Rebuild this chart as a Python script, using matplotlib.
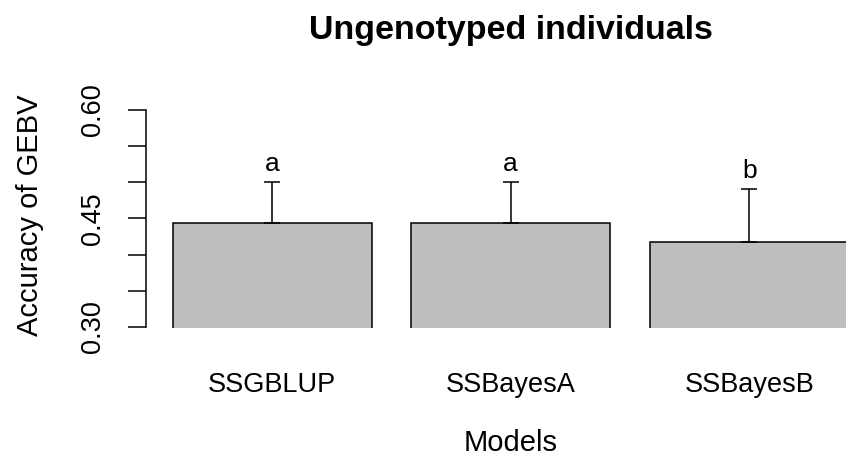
import numpy as np
import matplotlib
matplotlib.use('Agg')
import matplotlib.pyplot as plt

plt.rcParams['font.family'] = ['Liberation Sans', 'DejaVu Sans']

# data
models = ['SSGBLUP', 'SSBayesA', 'SSBayesB']
accuracy = [0.444, 0.444, 0.417]
upper = [0.501, 0.501, 0.491]
letters = ['a', 'a', 'b']

fig = plt.figure(figsize=(8.46, 4.63), dpi=100)
# R-style plot region, runs a bit past the right edge of the figure
ax = fig.add_axes([0.1722, 0.2916, 0.8629, 0.4924])

x = np.array([0.7, 1.9, 3.1])
ax.bar(x, accuracy, width=1.0, color='#bebebe', edgecolor='black', linewidth=1.1)
ax.errorbar(x, accuracy, yerr=[np.zeros(3), np.array(upper) - np.array(accuracy)],
            fmt='none', ecolor='black', elinewidth=1.1, capsize=5.8, capthick=1.1)
for xi, up, lab in zip(x, upper, letters):
    ax.annotate(lab, (xi, up), xytext=(0, 7.5), textcoords='offset points',
                ha='center', va='baseline', fontsize=19)

ax.set_xlim(0.064, 3.736)
ax.set_ylim(0.2986, 0.6138)

for s in ['top', 'right', 'bottom']:
    ax.spines[s].set_visible(False)
ax.spines['left'].set_bounds(0.30, 0.60)
ax.spines['left'].set_linewidth(1.1)

ax.set_yticks(np.arange(0.30, 0.601, 0.05))
ax.set_yticklabels(['0.30', '', '', '0.45', '', '', '0.60'], rotation=90,
                   va='center', fontsize=19.5)
ax.tick_params(axis='y', length=13, width=1.1, pad=15.5)

ax.set_xticks(x)
ax.set_xticklabels(models, fontsize=19.5)
ax.tick_params(axis='x', length=0, pad=31.5)

fig.text(0.6036, 1 - 31 / 463, 'Ungenotyped individuals', ha='center', va='center',
         fontsize=24.5, fontweight='bold')
fig.text(0.6036, 1 - 443 / 463, 'Models', ha='center', va='center', fontsize=21)
fig.text(30 / 846, 1 - 215 / 463, 'Accuracy of GEBV', ha='center', va='center',
         rotation=90, fontsize=21)

fig.savefig('out.png', dpi=100)
